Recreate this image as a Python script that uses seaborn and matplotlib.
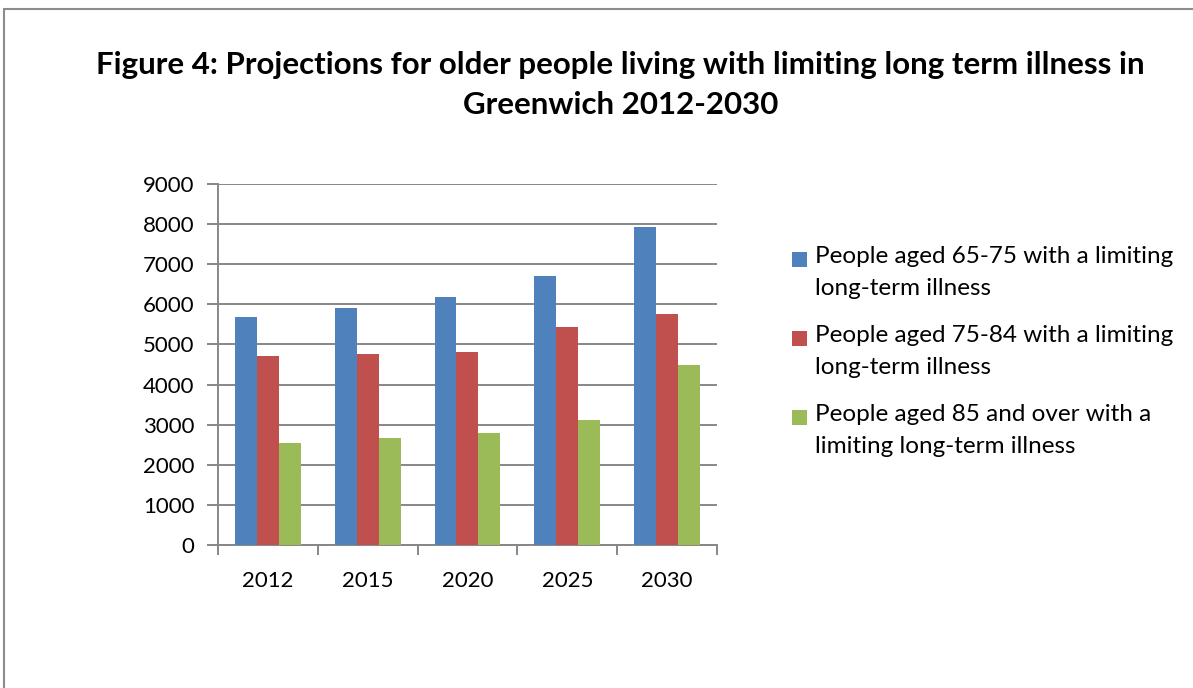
import matplotlib
matplotlib.use("Agg")
import matplotlib.pyplot as plt
from matplotlib.lines import Line2D
from matplotlib.ticker import FixedLocator, MultipleLocator
import pandas as pd
import seaborn as sns

# Projected counts of older people with a limiting long-term illness
years = ["2012", "2015", "2020", "2025", "2030"]
series_names = [
    "People aged 65-75 with a limiting\nlong-term illness",
    "People aged 75-84 with a limiting\nlong-term illness",
    "People aged 85 and over with a\nlimiting long-term illness",
]
aged_65_75 = [5690, 5900, 6190, 6700, 7930]
aged_75_84 = [4700, 4770, 4820, 5430, 5750]
aged_85_plus = [2550, 2680, 2800, 3120, 4500]
colors = ["#4F81BD", "#C0504D", "#9BBB59"]

df = pd.DataFrame({
    "year": years * 3,
    "series": [s for s in series_names for _ in years],
    "value": aged_65_75 + aged_75_84 + aged_85_plus,
})

sns.set_theme(style="white")
plt.rcParams["font.family"] = ["Lato", "DejaVu Sans"]
plt.rcParams["text.color"] = "black"

fig = plt.figure(figsize=(11.93, 6.88), dpi=100)
ax = fig.add_axes([0.1827, 0.2078, 0.4183, 0.5248])

sns.barplot(data=df, x="year", y="value", hue="series", order=years,
            hue_order=series_names, palette=colors, saturation=1,
            width=0.66, ax=ax, errorbar=None, edgecolor="none", zorder=3)

grid_col = "#878787"
ax.set_ylim(0, 9000)
ax.set_xlim(-0.5, len(years) - 0.5)
ax.yaxis.set_major_locator(MultipleLocator(1000))
ax.grid(axis="y", color=grid_col, linewidth=1.4, zorder=0)
ax.set_axisbelow(True)
ax.set_xlabel("")
ax.set_ylabel("")

for side in ("top", "right"):
    ax.spines[side].set_visible(False)
for side in ("left", "bottom"):
    ax.spines[side].set_color(grid_col)
    ax.spines[side].set_linewidth(1.4)

ax.tick_params(axis="y", which="major", length=8, width=1.4, color=grid_col,
               direction="out", left=True, labelsize=16, pad=9, labelcolor="black")
ax.tick_params(axis="x", which="major", length=0, labelsize=16, pad=19,
               labelcolor="black")
ax.xaxis.set_minor_locator(FixedLocator([i - 0.5 for i in range(len(years) + 1)]))
ax.tick_params(axis="x", which="minor", length=7, width=1.4, color=grid_col,
               direction="out", bottom=True)

leg = ax.legend(loc="upper left", bbox_to_anchor=(0.664, 0.642),
                bbox_transform=fig.transFigure, frameon=False, fontsize=17.5,
                handlelength=0.62, handleheight=0.62, handletextpad=0.3,
                labelspacing=1.07, borderaxespad=0, borderpad=0)
for txt in leg.get_texts():
    txt.set_linespacing(1.65)
    txt.set_color("black")

# Raise each legend swatch so it sits beside the first line of its label
fig.canvas.draw()
for patch, txt in zip(leg.legend_handles, leg.get_texts()):
    bb = txt.get_window_extent()
    shift_pts = (bb.height / 4.0) * 72.0 / fig.dpi
    patch.set_y(patch.get_y() + shift_pts)

fig.text(0.52, 0.8765,
         "Figure 4: Projections for older people living with limiting long term illness in\nGreenwich 2012-2030",
         ha="center", va="center", fontsize=22.5, fontweight="bold",
         linespacing=1.5, color="black")

# Chart-area border (top and left edges)
fig.add_artist(Line2D([0.003, 1.0], [0.987, 0.987], transform=fig.transFigure,
                      color="#8c8c8c", linewidth=1.5))
fig.add_artist(Line2D([0.003, 0.003], [0.0, 0.987], transform=fig.transFigure,
                      color="#8c8c8c", linewidth=1.5))

fig.savefig("out.png", dpi=100)
